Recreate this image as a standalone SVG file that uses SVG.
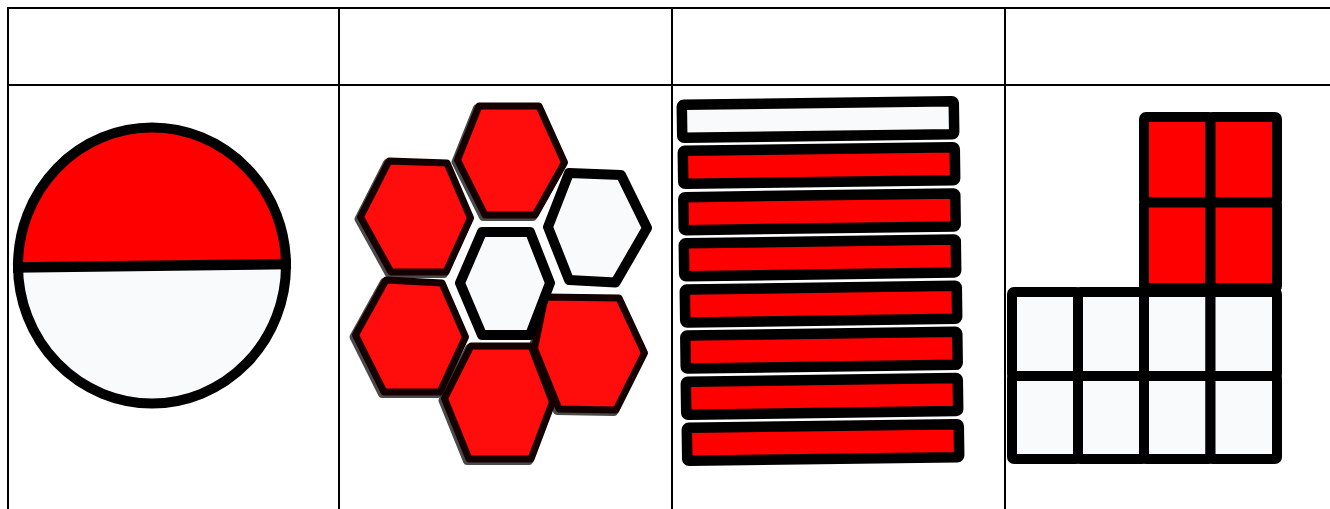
<svg xmlns="http://www.w3.org/2000/svg" width="1330" height="509" viewBox="0 0 1330 509">
<style>
.grid{stroke:#000;stroke-width:2;fill:none}
.red{fill:#ff0000}
.wht{fill:#f9fafc}
.hexr-o{fill:none;stroke:#2a2a2a;stroke-opacity:0.85;stroke-width:8;stroke-linejoin:round}
.hexr{fill:#ff0c0c;stroke:#140000;stroke-width:7;stroke-linejoin:round}
.hexw{fill:#f9fafc;stroke:#000;stroke-width:10;stroke-linejoin:round}
.bar{stroke:#000;stroke-width:10.5}
.cell{stroke:#000;stroke-width:10}
</style>
<rect width="1330" height="509" fill="#fff"/>
<g id="table">
<line class="grid" x1="7" y1="8" x2="1330" y2="8"/>
<line class="grid" x1="7" y1="85" x2="1330" y2="85"/>
<line class="grid" x1="8" y1="8" x2="8" y2="509"/>
<line class="grid" x1="339" y1="8" x2="339" y2="509"/>
<line class="grid" x1="672" y1="8" x2="672" y2="509"/>
<line class="grid" x1="1005" y1="8" x2="1005" y2="509"/>
</g>
<g id="circle">
<ellipse cx="152" cy="265.5" rx="134" ry="138" class="wht"/>
<path class="red" d="M18,267.5 A134,138 0 1 1 286,264 Z"/>
<ellipse cx="152" cy="265.5" rx="134" ry="138" fill="none" stroke="#000" stroke-width="10"/>
<line x1="13" y1="267.5" x2="291" y2="264" stroke="#000" stroke-width="10.5"/>
</g>
<g id="hexagons">
<g transform="translate(-2,2)">
<polygon class="hexr-o" points="479,106 539,106 564.5,162.5 535,215 485,215 457.5,160"/>
<polygon class="hexr-o" points="389,161 447,163 470.5,218 446,272 391,272 360.5,217"/>
<polygon class="hexr-o" points="386,280 442,283 465.5,337 440,392 384,392 355.5,335"/>
<polygon class="hexr-o" points="471,346 531,346 552.5,402 531,459 469,459 444.5,398.5"/>
<polygon class="hexr-o" points="545,297 619,298 644.5,353 616,410 559,409 534.5,348.5"/>
</g>
<polygon class="hexr" points="479,106 539,106 564.5,162.5 535,215 485,215 457.5,160"/>
<polygon class="hexr" points="389,161 447,163 470.5,218 446,272 391,272 360.5,217"/>
<polygon class="hexr" points="386,280 442,283 465.5,337 440,392 384,392 355.5,335"/>
<polygon class="hexr" points="471,346 531,346 552.5,402 531,459 469,459 444.5,398.5"/>
<polygon class="hexr" points="545,297 619,298 644.5,353 616,410 559,409 534.5,348.5"/>
<polygon class="hexw" points="569,173 621,175 647,228 615.5,282.5 569,280 548,227"/>
<polygon class="hexw" points="482,232 530,232 550,283 530,335 482,335 460,283"/>
</g>
<g id="bars">
<rect class="bar wht" x="682" y="103" width="272" height="33" rx="2" transform="rotate(-0.8 818 119.5)"/>
<rect class="bar red" x="683" y="149" width="272" height="33" rx="2" transform="rotate(-0.8 819 165.6)"/>
<rect class="bar red" x="683.5" y="195.3" width="272" height="33" rx="2" transform="rotate(-0.8 819.5 211.8)"/>
<rect class="bar red" x="684" y="241.4" width="272" height="33" rx="2" transform="rotate(-0.8 820 257.9)"/>
<rect class="bar red" x="685" y="287.6" width="272" height="33" rx="2" transform="rotate(-0.8 821 304.1)"/>
<rect class="bar red" x="685.5" y="333.7" width="272" height="33" rx="2" transform="rotate(-0.8 821.5 350.2)"/>
<rect class="bar red" x="686" y="379.9" width="272" height="33" rx="2" transform="rotate(-0.8 822 396.4)"/>
<rect class="bar red" x="687" y="426" width="272" height="33" rx="2" transform="rotate(-0.8 823 442.5)"/>
</g>
<g id="blocks">
<rect class="cell red" x="1144" y="117" width="66.5" height="85.5" rx="2"/>
<rect class="cell red" x="1210.5" y="117" width="66.5" height="85.5" rx="2"/>
<rect class="cell red" x="1144" y="202.5" width="66.5" height="85.5" rx="2"/>
<rect class="cell red" x="1210.5" y="202.5" width="66.5" height="85.5" rx="2"/>
<rect class="cell wht" x="1012" y="292" width="66" height="84" rx="2"/>
<rect class="cell wht" x="1078" y="292" width="66" height="84" rx="2"/>
<rect class="cell wht" x="1144" y="292" width="66.5" height="84" rx="2"/>
<rect class="cell wht" x="1210.5" y="292" width="66.5" height="84" rx="2"/>
<rect class="cell wht" x="1012" y="376" width="66" height="83" rx="2"/>
<rect class="cell wht" x="1078" y="376" width="66" height="83" rx="2"/>
<rect class="cell wht" x="1144" y="376" width="66.5" height="83" rx="2"/>
<rect class="cell wht" x="1210.5" y="376" width="66.5" height="83" rx="2"/>
</g>
</svg>
